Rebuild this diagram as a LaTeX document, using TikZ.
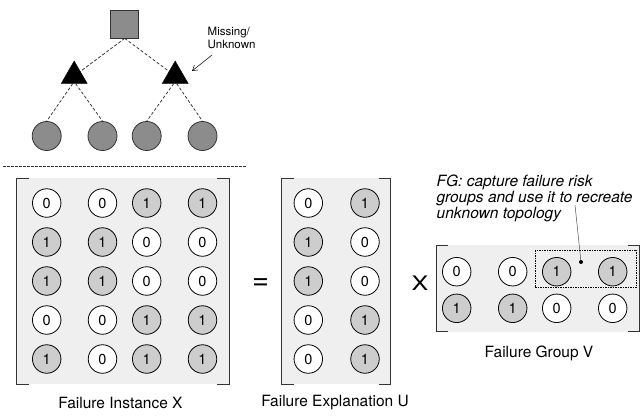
\documentclass[tikz,border=0pt]{standalone}
\usepackage{fontspec}
\setmainfont{TeX Gyre Heros}
\usetikzlibrary{shapes.geometric,arrows.meta}
\definecolor{matbg}{HTML}{EFEFEF}
\definecolor{onefill}{HTML}{CDCDCD}
\definecolor{treegray}{HTML}{8C8C8C}
\definecolor{brack}{HTML}{333333}
\tikzset{
  cell/.style={circle,draw=black,line width=0.8pt,minimum size=28.5pt,inner sep=0pt,font=\fontsize{14.5}{14.5}\selectfont},
  zero/.style={cell,fill=white},
  one/.style={cell,fill=onefill},
  treeline/.style={dash pattern=on 3pt off 2pt,line width=0.7pt,draw=black!85},
  leaf/.style={circle,draw=black!80,fill=treegray,line width=0.8pt,minimum size=29pt,inner sep=0pt},
  router/.style={regular polygon,regular polygon sides=3,fill=black,draw=black,minimum size=30pt,inner sep=0pt},
  rootbox/.style={rectangle,draw=black!80,fill=treegray,line width=0.8pt,minimum size=28pt,inner sep=0pt},
  bracketline/.style={draw=brack,line width=1pt},
  caption/.style={font=\fontsize{15.5}{15.5}\selectfont},
}
\newcommand{\mybracketbox}[4]{% left x, right x, top y, bottom y
  \fill[matbg] (#1,#3) rectangle (#2,#4);
  \draw[bracketline] (#1+12,#3) -- (#1,#3) -- (#1,#4) -- (#1+12,#4);
  \draw[bracketline] (#2-12,#3) -- (#2,#3) -- (#2,#4) -- (#2-12,#4);
}
\begin{document}
\begin{tikzpicture}[x=1pt,y=-1pt]
\useasboundingbox (0,0) rectangle (640,416);

% ---- tree ----
\node[rootbox] (root) at (124.7,24) {};
\node[router] (t1) at (74.2,76) {};
\node[router] (t2) at (175.2,76) {};
\node[leaf] (l1) at (46.7,136) {};
\node[leaf] (l2) at (102.5,136) {};
\node[leaf] (l3) at (146.7,136) {};
\node[leaf] (l4) at (202.5,136) {};
\draw[treeline] (root.south) -- (t1);
\draw[treeline] (root.south) -- (t2);
\draw[treeline] ([xshift=-1.5pt]t1.side 2) -- (l1.north);
\draw[treeline] ([xshift=1.5pt]t1.side 2) -- (l2.north);
\draw[treeline] ([xshift=-1.5pt]t2.side 2) -- (l3.north);
\draw[treeline] ([xshift=1.5pt]t2.side 2) -- (l4.north);
\node[align=left,anchor=north west,inner sep=0pt,font=\fontsize{11.5}{12.5}\selectfont] (missing) at (207.5,27) {Missing/\\Unknown};
\coordinate (arrS) at (212,55);
\coordinate (arrT) at (192,71);
\draw[line width=0.5pt,-{Straight Barb[length=5pt,width=6pt]}] (arrS) -- (arrT);

% divider
\coordinate (divA) at (3,166);
\coordinate (divB) at (247,166);
\draw[dash pattern=on 2.5pt off 1.5pt,line width=0.7pt,draw=black!80] (divA) -- (divB);

% ---- matrix X ----
\mybracketbox{16.7}{229}{178}{384}
\foreach \r/\y in {1/203,2/242,3/281,4/320,5/359}{
  \foreach \c/\x in {1/46.7,2/102.5,3/146.7,4/202.5}{
    \coordinate (xp-\r-\c) at (\x,\y);
  }
}
\foreach \r/\vals in {1/{0,0,1,1},2/{1,1,0,0},3/{1,1,0,0},4/{0,0,1,1},5/{1,0,1,1}}{
  \foreach \v [count=\c] in \vals {
    \ifnum\v=1 \node[one] (x-\r-\c) at (xp-\r-\c) {1};
    \else \node[zero] (x-\r-\c) at (xp-\r-\c) {0}; \fi
  }
}
\node[caption] (capX) at (120.5,403) {Failure Instance X};

\node[font=\fontsize{29}{29}\selectfont,inner sep=0pt] (eq) at (260.5,284) {=};

% ---- matrix U ----
\mybracketbox{281.7}{390.7}{178}{384}
\foreach \r/\y in {1/203,2/242,3/281,4/320,5/359}{
  \foreach \c/\x in {1/308.3,2/365}{
    \coordinate (up-\r-\c) at (\x,\y);
  }
}
\foreach \r/\vals in {1/{0,1},2/{1,0},3/{1,0},4/{0,1},5/{0,1}}{
  \foreach \v [count=\c] in \vals {
    \ifnum\v=1 \node[one] (u-\r-\c) at (up-\r-\c) {1};
    \else \node[zero] (u-\r-\c) at (up-\r-\c) {0}; \fi
  }
}
\node[caption] (capU) at (335,403) {Failure Explanation U};

\node[font=\fontsize{20}{20}\selectfont,inner sep=0pt] (times) at (420,283) {\scalebox{1.25}[1]{X}};

% ---- matrix V ----
\mybracketbox{436}{639.5}{245}{331.7}
\foreach \r/\y in {1/271.7,2/308.3}{
  \foreach \c/\x in {1/456.7,2/512.7,3/556.7,4/612.7}{
    \coordinate (vp-\r-\c) at (\x,\y);
  }
}
\foreach \r/\vals in {1/{0,0,1,1},2/{1,1,0,0}}{
  \foreach \v [count=\c] in \vals {
    \ifnum\v=1 \node[one] (v-\r-\c) at (vp-\r-\c) {1};
    \else \node[zero] (v-\r-\c) at (vp-\r-\c) {0}; \fi
  }
}
\node[caption] (capV) at (539,353) {Failure Group V};

% FG annotation
\draw[dash pattern=on 1.5pt off 1pt,line width=0.6pt] (535,250) rectangle (636.7,287.3);
\node[align=left,anchor=north west,inner sep=0pt,font=\itshape\fontsize{15.5}{16}\selectfont] (fg) at (436.5,174.5) {FG: capture failure risk\\groups and use it to recreate\\unknown topology};
\coordinate (fgstart) at (575,205);
\node[circle,fill=black,minimum size=4pt,inner sep=0pt] (fgdot) at (581,262) {};
\draw[line width=0.5pt,draw=black!70] (fgstart) -- (fgdot);
\end{tikzpicture}
\end{document}
